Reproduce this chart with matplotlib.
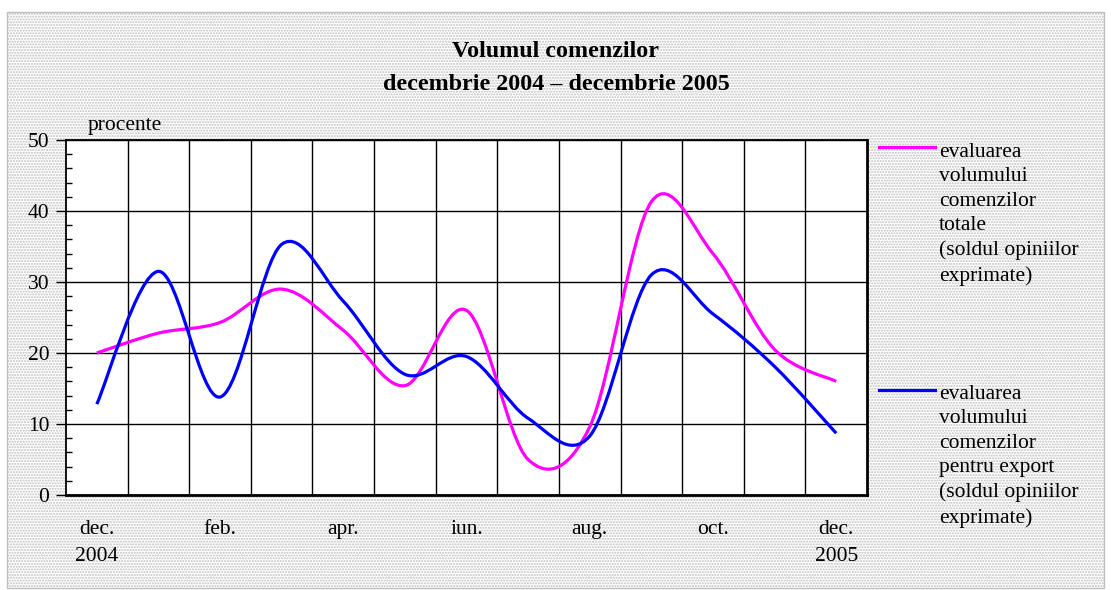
import numpy as np
import matplotlib
matplotlib.use("Agg")
import matplotlib.pyplot as plt
from matplotlib.path import Path
from matplotlib.patches import PathPatch, Rectangle
from matplotlib.lines import Line2D

plt.rcParams['font.family'] = ['Liberation Serif', 'DejaVu Serif']
plt.rcParams['hatch.color'] = '#b4b4b4'

months = ["dec. 2004", "ian.", "feb.", "mar.", "apr.", "mai", "iun.",
          "iul.", "aug.", "sep.", "oct.", "nov.", "dec. 2005"]
tick_labels = ["dec.\n2004", "", "feb.", "", "apr.", "", "iun.",
               "", "aug.", "", "oct.", "", "dec.\n2005"]
total = [20, 22.8, 24.3, 29, 23.2, 15.4, 26, 5.0, 9.6, 41.3, 34, 20.5, 16]
export = [12.8, 31.5, 13.8, 35.3, 27.3, 17, 19.5, 10.8, 8.3, 31.0, 25.5, 18.1, 8.7]

label_total = ("evaluarea\nvolumului\ncomenzilor\ntotale\n"
               "(soldul opiniilor\nexprimate)")
label_export = ("evaluarea\nvolumului\ncomenzilor\npentru export\n"
                "(soldul opiniilor\nexprimate)")


def smooth_path(y):
    # bezier segments like the smoothed lines of a spreadsheet chart
    x = np.arange(len(y), dtype=float)
    y = np.asarray(y, dtype=float)
    pts = np.column_stack([x, y])
    verts = [pts[0]]
    codes = [Path.MOVETO]
    n = len(pts)
    for i in range(n - 1):
        p0 = pts[max(i - 1, 0)]
        p1 = pts[i]
        p2 = pts[i + 1]
        p3 = pts[min(i + 2, n - 1)]
        c1 = p1 + (p2 - p0) / 6.0
        c2 = p2 - (p3 - p1) / 6.0
        verts += [c1, c2, p2]
        codes += [Path.CURVE4] * 3
    return Path(verts, codes)


fig = plt.figure(figsize=(11.11, 5.90), dpi=100)
fig.patch.set_facecolor("white")

W, H = 1111, 590
bg = Rectangle((7 / W, 2 / H), 1097 / W, 576 / H, transform=fig.transFigure,
               facecolor="white", edgecolor="#c0c0c0", hatch="......",
               linewidth=1.0, zorder=-10)
fig.patches.append(bg)

ax = fig.add_axes([66 / W, 1 - 495 / H, 801 / W, 355 / H])
ax.set_facecolor("white")

ax.add_patch(PathPatch(smooth_path(total), facecolor="none",
                       edgecolor="#ff00ff", linewidth=2.3, zorder=3))
ax.add_patch(PathPatch(smooth_path(export), facecolor="none",
                       edgecolor="#0000ff", linewidth=2.3, zorder=4))

ax.set_xlim(-0.5, len(months) - 0.5)
ax.set_ylim(0, 50)

ax.set_xticks(np.arange(len(months)))
ax.set_xticklabels(tick_labels, fontsize=15.5, linespacing=1.55)
ax.set_xticks(np.arange(0.5, len(months) - 1), minor=True)
ax.tick_params(axis="x", which="both", length=0, pad=18)

ax.set_yticks(np.arange(0, 51, 10))
ax.set_yticks(np.arange(0, 51, 2), minor=True)
ax.tick_params(axis="y", which="major", direction="out", length=7,
               width=1, labelsize=15.5, pad=5)
ax.tick_params(axis="y", which="minor", direction="in", length=4, width=1)

ax.grid(which="major", axis="y", color="black", linewidth=1)
ax.grid(which="minor", axis="x", color="black", linewidth=1)
ax.set_axisbelow(True)
for s in ax.spines.values():
    s.set_linewidth(1.3)
ax.spines["bottom"].set_linewidth(2)
ax.spines["right"].set_linewidth(2)

ax.text(0.027, 1.04, "procente", transform=ax.transAxes, fontsize=15.5,
        ha="left", va="center")

fig.text(556 / W, 1 - 68 / H, "Volumul comenzilor\ndecembrie 2004 \u2013 decembrie 2005",
         ha="center", va="center", fontsize=17.3, fontweight="bold",
         linespacing=1.7)

# legend, drawn by hand so the handle sits on the first text line
fig.add_artist(Line2D([879 / W, 935 / W], [1 - 147 / H, 1 - 147 / H],
                      color="#ff00ff", linewidth=2.3))
fig.add_artist(Line2D([879 / W, 935 / W], [1 - 390 / H, 1 - 390 / H],
                      color="#0000ff", linewidth=2.3))
fig.text(939 / W, 1 - 143 / H, label_total, ha="left", va="top",
         fontsize=15.5, linespacing=1.38)
fig.text(939 / W, 1 - 385 / H, label_export, ha="left", va="top",
         fontsize=15.5, linespacing=1.38)

fig.savefig("out.png", dpi=100, facecolor=fig.get_facecolor())
